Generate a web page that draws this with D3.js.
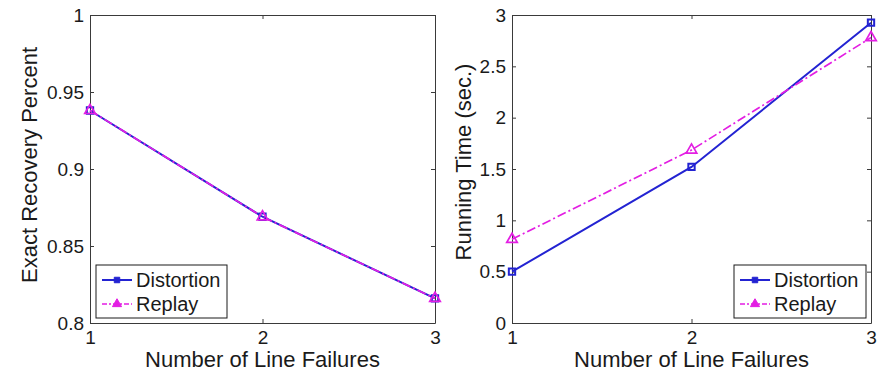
<!DOCTYPE html>
<html>
<head>
<meta charset="utf-8">
<script src="https://cdn.jsdelivr.net/npm/d3@7"></script>
<style>
  body { margin: 0; background: #fff; }
  svg { display: block; font-family: "Liberation Sans", Arial, sans-serif; }
  .axis path, .axis line { stroke: #3a3a3a; stroke-width: 1; }
  .axis text { fill: #1a1a1a; font-size: 19px; }
  .label { fill: #1a1a1a; font-size: 22px; }
  .legend text { fill: #1a1a1a; font-size: 20px; }
</style>
</head>
<body>
<script>
var failures = [1, 2, 3];

var recoveryDistortion = [0.938, 0.869, 0.816];
var recoveryReplay = [0.938, 0.869, 0.816];

var timeDistortion = [0.5, 1.52, 2.925];
var timeReplay = [0.815, 1.685, 2.78];

var recoveryTicks = [0.8, 0.85, 0.9, 0.95, 1];
var timeTicks = [0, 0.5, 1, 1.5, 2, 2.5, 3];

var seriesNames = ["Distortion", "Replay"];

var width = 888,
    height = 373;

var blue = "#2323d2",
    magenta = "#e31ee3";

var svg = d3.select("body").append("svg")
    .attr("width", width)
    .attr("height", height);

var fmt = function(d) { return String(+d.toFixed(2)); };

var panels = [
  {
    left: 90, right: 435, top: 15, bottom: 323,
    domain: [0.8, 1], ticks: recoveryTicks,
    distortion: recoveryDistortion, replay: recoveryReplay,
    ylabel: "Exact Recovery Percent", ylabelX: 37, ylabelY: 165,
    legend: { x: 96, y: 265, w: 131, h: 53 }
  },
  {
    left: 512, right: 871, top: 15, bottom: 323,
    domain: [0, 3], ticks: timeTicks,
    distortion: timeDistortion, replay: timeReplay,
    ylabel: "Running Time (sec.)", ylabelX: 471, ylabelY: 162,
    legend: { x: 734, y: 265, w: 132, h: 53 }
  }
];

panels.forEach(function(p) {
  var x = d3.scaleLinear().domain([1, 3]).range([p.left, p.right]);
  var y = d3.scaleLinear().domain(p.domain).range([p.bottom, p.top]);

  var g = svg.append("g");

  // box with inward ticks on all four sides
  g.append("g").attr("class", "axis")
      .attr("transform", "translate(0," + p.bottom + ")")
      .call(d3.axisBottom(x).tickValues(failures).tickSizeInner(-4).tickSizeOuter(0)
        .tickPadding(8).tickFormat(fmt));
  g.append("g").attr("class", "axis")
      .attr("transform", "translate(0," + p.top + ")")
      .call(d3.axisTop(x).tickValues(failures).tickSizeInner(-4).tickSizeOuter(0)
        .tickFormat(""));
  g.append("g").attr("class", "axis")
      .attr("transform", "translate(" + p.left + ",0)")
      .call(d3.axisLeft(y).tickValues(p.ticks).tickSizeInner(-4).tickSizeOuter(0)
        .tickPadding(6).tickFormat(fmt));
  g.append("g").attr("class", "axis")
      .attr("transform", "translate(" + p.right + ",0)")
      .call(d3.axisRight(y).tickValues(p.ticks).tickSizeInner(-4).tickSizeOuter(0)
        .tickFormat(""));

  g.selectAll(".axis text").attr("fill", "#1a1a1a");

  // axis labels
  g.append("text").attr("class", "label")
      .attr("x", (p.left + p.right) / 2)
      .attr("y", 367)
      .attr("text-anchor", "middle")
      .text("Number of Line Failures");

  g.append("text").attr("class", "label")
      .attr("transform", "translate(" + p.ylabelX + "," + p.ylabelY + ") rotate(-90)")
      .attr("text-anchor", "middle")
      .text(p.ylabel);

  var line = d3.line()
      .x(function(d, i) { return x(failures[i]); })
      .y(function(d) { return y(d); });

  // Distortion
  g.append("path")
      .attr("d", line(p.distortion))
      .attr("fill", "none")
      .attr("stroke", blue)
      .attr("stroke-width", 2);

  // Replay
  g.append("path")
      .attr("d", line(p.replay))
      .attr("fill", "none")
      .attr("stroke", magenta)
      .attr("stroke-width", 1.7)
      .attr("stroke-dasharray", "9,3,2,3");

  g.selectAll(".sq")
      .data(p.distortion)
    .enter().append("path")
      .attr("class", "sq")
      .attr("transform", function(d, i) { return "translate(" + x(failures[i]) + "," + y(d) + ")"; })
      .attr("d", d3.symbol().type(d3.symbolSquare).size(40))
      .attr("fill", "none")
      .attr("stroke", blue)
      .attr("stroke-width", 2);

  g.selectAll(".tri")
      .data(p.replay)
    .enter().append("path")
      .attr("class", "tri")
      .attr("transform", function(d, i) { return "translate(" + x(failures[i]) + "," + y(d) + ")"; })
      .attr("d", d3.symbol().type(d3.symbolTriangle).size(48))
      .attr("fill", "none")
      .attr("stroke", magenta)
      .attr("stroke-width", 1.7);

  // legend
  var L = p.legend;
  var lg = g.append("g").attr("class", "legend")
      .attr("transform", "translate(" + L.x + "," + L.y + ")");

  lg.append("rect")
      .attr("width", L.w)
      .attr("height", L.h)
      .attr("fill", "#fff")
      .attr("stroke", "#1a1a1a")
      .attr("stroke-width", 1);

  var rows = lg.selectAll(".row")
      .data(seriesNames)
    .enter().append("g")
      .attr("class", "row")
      .attr("transform", function(d, i) { return "translate(0," + (15 + i * 24) + ")"; });

  rows.append("line")
      .attr("x1", 6).attr("x2", 36)
      .attr("stroke", function(d, i) { return i ? magenta : blue; })
      .attr("stroke-width", function(d, i) { return i ? 1.6 : 2; })
      .attr("stroke-dasharray", function(d, i) { return i ? "5,2,2,2" : null; });

  rows.append("path")
      .attr("transform", "translate(21,0)")
      .attr("d", function(d, i) {
        return d3.symbol().type(i ? d3.symbolTriangle : d3.symbolSquare).size(i ? 36 : 30)();
      })
      .attr("fill", function(d, i) { return i ? magenta : blue; })
      .attr("stroke", function(d, i) { return i ? magenta : blue; })
      .attr("stroke-width", 1);

  rows.append("text")
      .attr("x", 40)
      .attr("dy", "0.36em")
      .text(function(d) { return d; });
});
</script>
</body>
</html>
